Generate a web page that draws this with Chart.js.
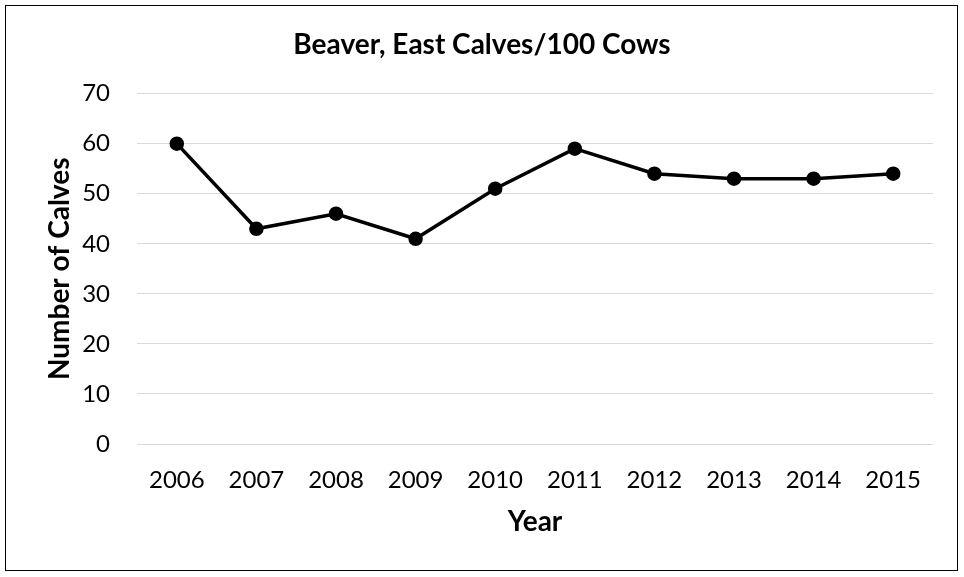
<!DOCTYPE html>
<html>
<head>
<meta charset="utf-8">
<script src="https://cdn.jsdelivr.net/npm/chart.js@4"></script>
<style>
  html, body { margin: 0; padding: 0; background: #fff; }
  #wrap { position: relative; width: 964px; height: 577px; }
  #frame { position: absolute; left: 5px; top: 5px; width: 951px; height: 564px; border: 1.5px solid #000; pointer-events: none; }
</style>
</head>
<body>
<div id="wrap">
  <canvas id="grafica" width="964" height="577"></canvas>
  <div id="frame"></div>
</div>
<script>
// ─── DATOS ────────────────────────────────────────────────
const years = ['2006', '2007', '2008', '2009', '2010', '2011', '2012', '2013', '2014', '2015']
const calves = [60, 43, 46, 41, 51, 59, 54, 53, 53, 54]
const yTicks = [0, 10, 20, 30, 40, 50, 60, 70]

const FONT = 'Lato, "Open Sans", sans-serif'

new Chart(document.getElementById('grafica'), {
    type: 'line',
    data: {
        labels: years,
        datasets: [{
            label: 'Calves/100 Cows',
            data: calves,
            borderColor: '#000',
            backgroundColor: '#000',
            borderWidth: 3.5,
            pointRadius: 5.5,
            pointBackgroundColor: '#000',
            pointBorderColor: '#000',
            tension: 0
        }]
    },
    options: {
        responsive: false,
        animation: false,
        layout: { padding: { left: 31, right: 31, top: 10, bottom: 0 } },
        plugins: {
            legend: { display: false },
            tooltip: { enabled: false },
            title: {
                display: true,
                text: 'Beaver, East Calves/100 Cows',
                color: '#000',
                font: { family: FONT, size: 28, weight: 'bold' },
                padding: { top: 18, bottom: 32 }
            }
        },
        scales: {
            x: {
                offset: true,
                grid: { display: false, drawTicks: false },
                border: { display: false },
                ticks: { color: '#000', font: { family: FONT, size: 24 }, padding: 22 },
                title: {
                    display: true,
                    text: 'Year',
                    color: '#000',
                    font: { family: FONT, size: 28, weight: 'bold' },
                    padding: { top: 0, bottom: 38 }
                },
                afterFit: s => { s.height = 133 }
            },
            y: {
                min: 0,
                max: 70,
                afterBuildTicks: s => { s.ticks = yTicks.map(v => ({ value: v })) },
                grid: { color: '#d9d9d9', lineWidth: 1, drawTicks: false },
                border: { display: false },
                ticks: { color: '#000', font: { family: FONT, size: 24 }, padding: 27 },
                title: {
                    display: true,
                    text: 'Number of Calves',
                    color: '#000',
                    font: { family: FONT, size: 28, weight: 'bold' },
                    padding: { top: 12, bottom: 0 }
                },
                afterFit: s => { s.width = 106 }
            }
        }
    }
})
</script>
</body>
</html>
